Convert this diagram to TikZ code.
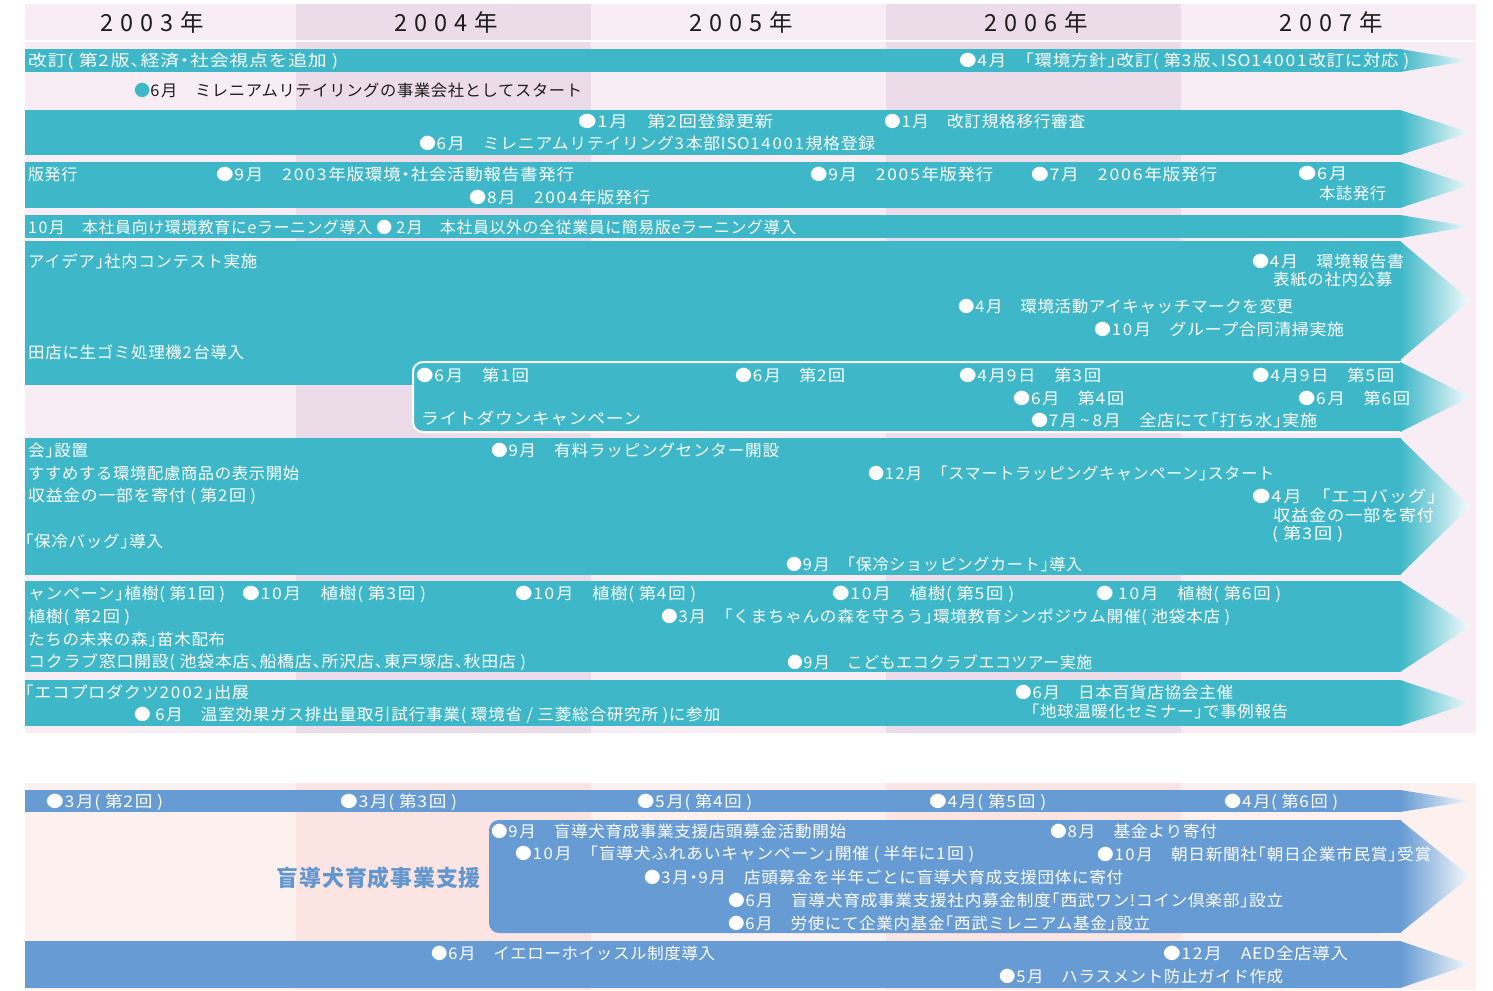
\documentclass[tikz,border=0pt]{standalone}
\usepackage{fontspec}
\usepackage{graphicx}
\setmainfont{Noto Sans CJK JP}[LetterSpace=4,RawFeature=+halt]
\newfontfamily\yearfont{Noto Sans CJK JP}[LetterSpace=30]
\definecolor{teal}{RGB}{62,184,200}
\definecolor{lblue}{RGB}{103,155,211}
\definecolor{labblue}{RGB}{98,150,206}
\definecolor{pinkL}{RGB}{248,237,245}
\definecolor{pinkD}{RGB}{236,219,233}
\definecolor{peachL}{RGB}{253,241,240}
\definecolor{peachD}{RGB}{251,228,226}
\definecolor{textdark}{RGB}{30,30,30}
% extra space after digits
\newXeTeXintercharclass\dgcls
\count255=`0
\loop \XeTeXcharclass\count255=\dgcls \ifnum\count255<`9 \advance\count255 by 1 \repeat
\XeTeXinterchartoks\dgcls 0={\kern1.6pt}
\XeTeXinterchartoks\dgcls 1={\kern1.6pt}
\XeTeXinterchartoks\dgcls 2={\kern1.6pt}
\XeTeXinterchartoks\dgcls 3={\kern1.6pt}
\XeTeXinterchartoks\dgcls\dgcls={\kern1.6pt}
\newcommand\dgon{\XeTeXinterchartokenstate=1\relax}
% fit a text to a given width (horizontal scaling only)
\newsavebox\fitbox
\newcommand\fitw[2]{\sbox\fitbox{#2}\scalebox{\fpeval{(#1)*65536/\number\wd\fitbox}}[1]{\usebox\fitbox}}
\newcommand\tlbar[3]{%
  \fill[#1] (25,#2) rectangle (1401,#3);
  \shade[left color=#1, right color=#1!6!white] (1400,#2) -- (1470,{(#2+#3)/2}) -- (1400,#3) -- cycle;}
\newcommand\tlhead[3]{%
  \shade[left color=#1, right color=#1!6!white] (1400,#2) -- (1470,{(#2+#3)/2}) -- (1400,#3) -- cycle;}
\tikzset{
  wt/.style={anchor=west, text=white, inner sep=0pt, font=\fontsize{16}{18}\selectfont\dgon},
  dk/.style={wt, text=textdark},
  yr/.style={font=\yearfont\fontsize{23.5}{26}\selectfont, text=textdark, inner sep=0pt},
}
\begin{document}
\begin{tikzpicture}[x=1pt,y=-1pt]
\useasboundingbox (0,0) rectangle (1493,990);
% ---------- upper background ----------
\fill[pinkL] (25,4) rectangle (296,733);
\fill[pinkD] (296,4) rectangle (591,733);
\fill[pinkL] (591,4) rectangle (886,733);
\fill[pinkD] (886,4) rectangle (1181,733);
\fill[pinkL] (1181,4) rectangle (1476,733);
\draw[white, line width=2] (25,41.5) -- (1476,41.5);
% ---------- lower background ----------
\fill[peachL] (25,783) rectangle (296,990);
\fill[peachD] (296,783) rectangle (591,990);
\fill[peachL] (591,783) rectangle (886,990);
\fill[peachD] (886,783) rectangle (1181,990);
\fill[peachL] (1181,783) rectangle (1476,990);
% ---------- years ----------
\node[yr] (y3) at (152,23) {2003年};
\node[yr] (y4) at (446,23) {2004年};
\node[yr] (y5) at (741,23) {2005年};
\node[yr] (y6) at (1036,23) {2006年};
\node[yr] (y7) at (1331,23) {2007年};
% ---------- bars ----------
\tlbar{teal}{49}{72}
\tlbar{teal}{110}{155}
\tlbar{teal}{162}{208}
\tlbar{teal}{215}{238}
\fill[teal] (25,241) rectangle (1401,361);
\fill[teal] (25,355) rectangle (440,385);
\tlhead{teal}{241}{360}
\filldraw[fill=teal, draw=white, line width=2, rounded corners=10] (1401,362) -- (413,362) -- (413,432) -- (1401,432);
\tlhead{teal}{362}{432}
\tlbar{teal}{438}{575}
\tlbar{teal}{581}{672}
\tlbar{teal}{680}{726}
\tlbar{lblue}{790}{812}
\fill[lblue, rounded corners=10] (489,820) rectangle (1390,933);
\fill[lblue] (1300,820) rectangle (1401,933);
\tlhead{lblue}{820}{933}
\tlbar{lblue}{941}{988}
% ---------- row A ----------
\node[wt] (a1) at (28,61) {\fitw{310}{改訂( 第2版、経済・社会視点を追加 )}};
\node[wt] (a2) at (959,61) {\fitw{450}{●4月　「環境方針」改訂( 第3版、ISO14001改訂に対応 )}};
\node[dk] (a3) at (134,90) {\fitw{448}{{\color{teal}●}6月　ミレニアムリテイリングの事業会社としてスタート}};
% ---------- row B ----------
\node[wt] (b1) at (578,121) {\fitw{195}{●1月　第2回登録更新}};
\node[wt] (b2) at (884,121) {\fitw{201}{●1月　改訂規格移行審査}};
\node[wt] (b3) at (419,143) {\fitw{456}{●6月　ミレニアムリテイリング3本部ISO14001規格登録}};
% ---------- row C ----------
\node[wt] (c1) at (28,174) {\fitw{49}{版発行}};
\node[wt] (c2) at (216,174) {\fitw{358}{●9月　2003年版環境・社会活動報告書発行}};
\node[wt] (c3) at (469,197) {\fitw{181}{●8月　2004年版発行}};
\node[wt] (c4) at (810,174) {\fitw{183}{●9月　2005年版発行}};
\node[wt] (c5) at (1031,174) {\fitw{186}{●7月　2006年版発行}};
\node[wt] (c6) at (1298,174) {\fitw{49}{●6月}};
\node[wt] (c7) at (1319,193) {\fitw{67}{本誌発行}};
% ---------- row D ----------
\node[wt] (d1) at (28,227) {\fitw{768}{10月　本社員向け環境教育にeラーニング導入 ● 2月　本社員以外の全従業員に簡易版eラーニング導入}};
% ---------- row E ----------
\node[wt] (e1) at (28,261) {\fitw{229}{アイデア」社内コンテスト実施}};
\node[wt] (e2) at (28,352) {\fitw{216}{田店に生ゴミ処理機2台導入}};
\node[wt] (e3) at (1252,261) {\fitw{152}{●4月　環境報告書}};
\node[wt] (e4) at (1273,280) {\fitw{119}{表紙の社内公募}};
\node[wt] (e5) at (958,306) {\fitw{335}{●4月　環境活動アイキャッチマークを変更}};
\node[wt] (e6) at (1094,329) {\fitw{250}{●10月　グループ合同清掃実施}};
% ---------- light down ----------
\node[wt] (l1) at (416,375) {\fitw{113}{●6月　第1回}};
\node[wt] (l2) at (421,418) {\fitw{220}{ライトダウンキャンペーン}};
\node[wt] (l3) at (735,375) {\fitw{110}{●6月　第2回}};
\node[wt] (l4) at (959,375) {\fitw{142}{●4月9日　第3回}};
\node[wt] (l5) at (1013,398) {\fitw{111}{●6月　第4回}};
\node[wt] (l6) at (1031,420) {\fitw{286}{●7月\,\textasciitilde\,8月　全店にて「打ち水」実施}};
\node[wt] (l7) at (1252,375) {\fitw{142}{●4月9日　第5回}};
\node[wt] (l8) at (1298,398) {\fitw{112}{●6月　第6回}};
% ---------- row F ----------
\node[wt] (f1) at (28,450) {\fitw{60}{会」設置}};
\node[wt] (f2) at (28,473) {\fitw{271}{すすめする環境配慮商品の表示開始}};
\node[wt] (f3) at (28,496) {\fitw{228}{収益金の一部を寄付 ( 第2回 )}};
\node[wt] (f4) at (25,541) {\fitw{138}{「保冷バッグ」導入}};
\node[wt] (f5) at (491,450) {\fitw{288}{●9月　有料ラッピングセンター開設}};
\node[wt] (f6) at (868,473) {\fitw{406}{●12月　「スマートラッピングキャンペーン」スタート}};
\node[wt] (f7) at (1252,496) {\fitw{184}{●4月　「エコバッグ」}};
\node[wt] (f8) at (1273,515) {\fitw{161}{収益金の一部を寄付}};
\node[wt] (f9) at (1272,534) {\fitw{71}{( 第3回 )}};
\node[wt] (f10) at (786,564) {\fitw{296}{●9月　「保冷ショッピングカート」導入}};
% ---------- row G ----------
\node[wt] (g1) at (28,594) {\fitw{197}{ャンペーン」植樹( 第1回 )}};
\node[wt] (g2) at (242,594) {\fitw{184}{●10月　植樹( 第3回 )}};
\node[wt] (g3) at (515,594) {\fitw{181}{●10月　植樹( 第4回 )}};
\node[wt] (g4) at (832,594) {\fitw{182}{●10月　植樹( 第5回 )}};
\node[wt] (g5) at (1096,594) {\fitw{185}{● 10月　植樹( 第6回 )}};
\node[wt] (g6) at (28,617) {\fitw{102}{植樹( 第2回 )}};
\node[wt] (g7) at (661,617) {\fitw{569}{●3月　「くまちゃんの森を守ろう」環境教育シンポジウム開催( 池袋本店 )}};
\node[wt] (g8) at (28,639) {\fitw{197}{たちの未来の森」苗木配布}};
\node[wt] (g9) at (28,662) {\fitw{498}{コクラブ窓口開設( 池袋本店、船橋店、所沢店、東戸塚店、秋田店 )}};
\node[wt] (g10) at (787,662) {\fitw{305}{●9月　こどもエコクラブエコツアー実施}};
% ---------- row H ----------
\node[wt] (h1) at (25,692) {\fitw{224}{「エコプロダクツ2002」出展}};
\node[wt] (h2) at (134,715) {\fitw{586}{● 6月　温室効果ガス排出量取引試行事業( 環境省 / 三菱総合研究所 )に参加}};
\node[wt] (h3) at (1015,692) {\fitw{218}{●6月　日本百貨店協会主催}};
\node[wt] (h4) at (1031,711) {\fitw{257}{「地球温暖化セミナー」で事例報告}};
% ---------- lower rows ----------
\node[wt] (i1) at (46,802) {\fitw{117}{●3月( 第2回 )}};
\node[wt] (i2) at (340,802) {\fitw{117}{●3月( 第3回 )}};
\node[wt] (i3) at (637,802) {\fitw{115}{●5月( 第4回 )}};
\node[wt] (i4) at (929,802) {\fitw{117}{●4月( 第5回 )}};
\node[wt] (i5) at (1224,802) {\fitw{114}{●4月( 第6回 )}};
\node[anchor=east, inner sep=0pt, text=labblue, font=\fontsize{22.5}{25}\selectfont\bfseries] (lab) at (481,878) {\fitw{204}{盲導犬育成事業支援}};
\node[wt] (j1) at (491,831) {\fitw{355}{●9月　盲導犬育成事業支援店頭募金活動開始}};
\node[wt] (j2) at (1050,831) {\fitw{167}{●8月　基金より寄付}};
\node[wt] (j3) at (515,854) {\fitw{459}{●10月　「盲導犬ふれあいキャンペーン」開催 ( 半年に1回 )}};
\node[wt] (j4) at (1097,854) {\fitw{334}{●10月　朝日新聞社「朝日企業市民賞」受賞}};
\node[wt] (j5) at (644,877) {\fitw{479}{●3月・9月　店頭募金を半年ごとに盲導犬育成支援団体に寄付}};
\node[wt] (j6) at (728,900) {\fitw{555}{●6月　盲導犬育成事業支援社内募金制度「西武ワン!コイン倶楽部」設立}};
\node[wt] (j7) at (728,923) {\fitw{422}{●6月　労使にて企業内基金「西武ミレニアム基金」設立}};
\node[wt] (k1) at (431,953) {\fitw{284}{●6月　イエローホイッスル制度導入}};
\node[wt] (k2) at (1163,953) {\fitw{185}{●12月　AED全店導入}};
\node[wt] (k3) at (999,976) {\fitw{284}{●5月　ハラスメント防止ガイド作成}};
\end{tikzpicture}
\end{document}
